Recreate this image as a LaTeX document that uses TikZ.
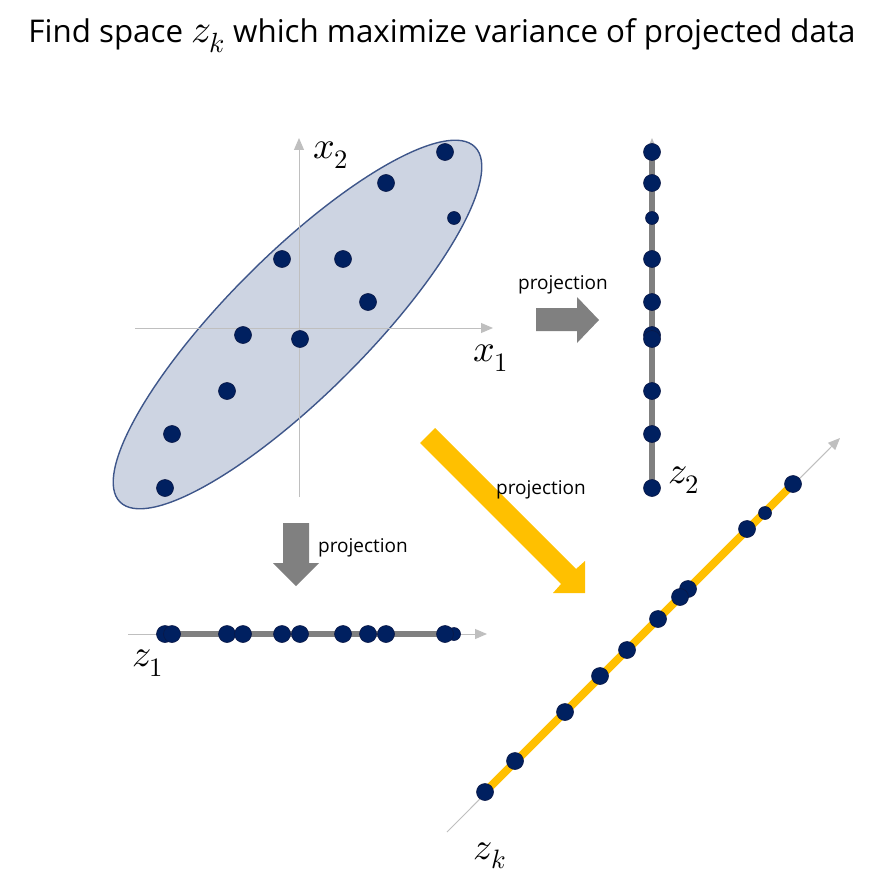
\documentclass[tikz,border=0pt]{standalone}
\usepackage{fontspec}
\usepackage{unicode-math}
\setmainfont{Open Sans}
\setmathfont{Latin Modern Math}
\usetikzlibrary{arrows.meta}
\definecolor{navy}{RGB}{0,32,96}
\definecolor{navyline}{RGB}{10,24,70}
\definecolor{axisgray}{RGB}{191,191,191}
\definecolor{ellfill}{RGB}{205,212,226}
\definecolor{elldraw}{RGB}{62,86,138}
\definecolor{blockgray}{RGB}{128,128,128}
\definecolor{gold}{RGB}{255,192,0}
\begin{document}
\begin{tikzpicture}[x=1pt,y=-1pt,
  axis/.style={draw=axisgray, line width=1pt, -{Triangle[length=12pt,width=10pt]}},
  pt/.style={circle, fill=navy, draw=navyline, line width=0.6pt, minimum size=17pt, inner sep=0pt},
  spt/.style={pt, minimum size=13pt},
  lbl/.style={font=\fontsize{38}{38}\selectfont, inner sep=0pt},
  ptext/.style={font=\fontsize{19}{19}\selectfont, inner sep=0pt},
  projline/.style={draw=blockgray, line width=6pt},
]
\useasboundingbox (0,0) rectangle (884,885);

% title
\node[inner sep=0pt] (title) at (442,36) {\resizebox{827pt}{!}{\fontsize{30}{30}\selectfont Find space {\fontsize{38}{38}\selectfont$z_k$} which maximize variance of projected data}};

% ellipse
\draw[fill=ellfill, draw=elldraw, line width=1.4pt, shift={(297.5,324.5)}, rotate=45] (0,0) ellipse [x radius=251pt, y radius=70pt];

% axes x1 x2
\coordinate (a1s) at (135,328); \coordinate (a1e) at (493,328);
\coordinate (a2s) at (299,497); \coordinate (a2e) at (299,138);
\draw[axis] (a1s) -- (a1e);
\draw[axis] (a2s) -- (a2e);
\node[lbl] (x2) at (331,155) {$x_2$};
\node[lbl] (x1) at (491,358) {$x_1$};

% data points
\foreach \n/\x/\y in {p1/445/152, p2/386/183, p4/282/259, p5/343/259, p6/368/302, p7/243/335, p8/300/339, p9/227/391, p10/172/434, p11/165/488}
  \node[pt] (\n) at (\x,\y) {};
\node[spt] (p3) at (454,218) {};

% z2 axis
\coordinate (b2s) at (652,488); \coordinate (b2e) at (652,138);
\coordinate (b2a) at (652,152);
\draw[axis] (b2s) -- (b2e);
\draw[projline] (b2a) -- (b2s);
\foreach \y in {152,183,259,302,335,339,391,434,488}
  \node[pt] at (652,\y) {};
\node[spt] at (652,218) {};
\node[lbl] (z2) at (684,480) {$z_2$};

% z1 axis
\coordinate (b1s) at (128,634); \coordinate (b1e) at (487,634);
\coordinate (b1a) at (165,634); \coordinate (b1b) at (450,634);
\draw[axis] (b1s) -- (b1e);
\draw[projline] (b1a) -- (b1b);
\node[spt] at (454,634) {};
\foreach \x in {165,172,227,243,282,300,343,368,386,445}
  \node[pt] at (\x,634) {};
\node[lbl] (z1) at (148,663) {$z_1$};

% zk axis
\coordinate (cks) at (447,832); \coordinate (cke) at (840,438);
\coordinate (cka) at (485,792); \coordinate (ckb) at (793,484);
\draw[axis] (cks) -- (cke);
\draw[draw=gold, line width=8pt] (cka) -- (ckb);
\foreach \x/\y in {793/484, 747/529, 688/589, 680/597, 658/619, 627/650, 600/676, 565/712, 515/761, 485/792}
  \node[pt] at (\x,\y) {};
\node[spt] at (765,513) {};
\node[lbl] (zk) at (490,856) {$z_k$};

% block arrows
\fill[blockgray] (536,308) -- (577,308) -- (577,297) -- (599,320) -- (577,343) -- (577,331) -- (536,331) -- cycle;
\fill[blockgray] (283,523) -- (309,523) -- (309,563) -- (319,563) -- (296,586) -- (273,563) -- (283,563) -- cycle;
\fill[gold] (420,443) -- (435,428) -- (576,569) -- (585,561) -- (585,593) -- (553,593) -- (561,584) -- cycle;

\node[ptext] (pr1) at (563,285) {projection};
\node[ptext] (pr2) at (363,548) {projection};
\node[ptext] (pr3) at (541,490) {projection};
\end{tikzpicture}
\end{document}
